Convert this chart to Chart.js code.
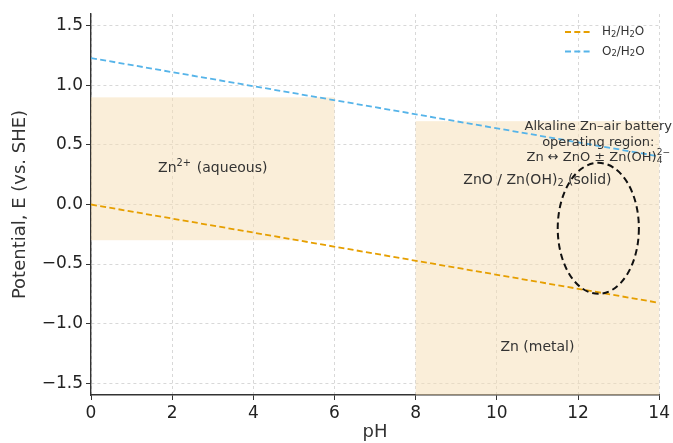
<!DOCTYPE html>
<html>
<head>
<meta charset="utf-8">
<script src="https://cdn.jsdelivr.net/npm/chart.js@4.4.1/dist/chart.umd.min.js"></script>
<style>
  html, body { margin: 0; padding: 0; background: #fff; }
  #wrap { width: 673px; height: 443px; position: relative; }
</style>
</head>
<body>
<div id="wrap"><canvas id="myChart"></canvas></div>
<script>
// water stability lines (pH vs potential)
var phValues = [0, 14];
var h2Values = [0, -0.826];
var o2Values = [1.23, 0.404];

var xTicks = [0, 2, 4, 6, 8, 10, 12, 14];
var yTicks = [-1.5, -1.0, -0.5, 0.0, 0.5, 1.0, 1.5];

// shaded stability regions
var regionX0 = [0, 8];
var regionX1 = [6, 14];
var regionY0 = [-0.3, -1.6];
var regionY1 = [0.9, 0.7];

// region labels  (_x = subscript, ^{..} = superscript)
var labelText = ['Zn^{2+} (aqueous)', 'ZnO / Zn(OH)_2 (solid)', 'Zn (metal)'];
var labelX = [3, 11, 11];
var labelY = [0.3, 0.2, -1.2];

// battery operating region (ellipse) + note
var ellipseCenter = [12.5, -0.2];
var ellipseRadius = [1.0, 0.55];
var noteLines = ['Alkaline Zn\u2013air battery', 'operating region:', 'Zn \u2194 ZnO \u00b1 Zn(OH)_4^{2\u2212}'];
var noteAnchor = [12.5, 0.52];

var seriesNames = ['H_2/H_2O', 'O_2/H_2O'];

var FONT = "'DejaVu Sans', sans-serif";

function fmtY(v) {
  return (v < 0 ? '\u2212' : '') + Math.abs(v).toFixed(1);
}

// split "Zn(OH)_4^{2-}" into normal / sub / sup pieces
function parseRich(s) {
  var out = [], buf = '', i = 0;
  while (i < s.length) {
    var c = s[i];
    if (c === '_' || c === '^') {
      if (buf) { out.push({ t: buf, m: 'n' }); buf = ''; }
      var g;
      if (s[i + 1] === '{') {
        var e = s.indexOf('}', i + 2);
        g = s.substring(i + 2, e);
        i = e + 1;
      } else {
        g = s[i + 1];
        i += 2;
      }
      out.push({ t: g, m: c === '_' ? 'sub' : 'sup' });
    } else {
      buf += c;
      i++;
    }
  }
  if (buf) out.push({ t: buf, m: 'n' });
  return out;
}

function drawRich(ctx, s, x, y, size, align) {
  var parts = parseRich(s);
  var small = size * 0.7;
  var items = [], total = 0;
  for (var i = 0; i < parts.length; i++) {
    var p = parts[i];
    if (p.m === 'n') {
      ctx.font = size + 'px ' + FONT;
      var w = ctx.measureText(p.t).width;
      items.push({ t: p.t, x: total, dy: 0, f: size });
      total += w;
    } else {
      ctx.font = small + 'px ' + FONT;
      var w1 = ctx.measureText(p.t).width;
      var dy = p.m === 'sub' ? size * 0.22 : -size * 0.38;
      items.push({ t: p.t, x: total, dy: dy, f: small });
      var adv = w1;
      // stacked sub + sup
      if (p.m === 'sub' && parts[i + 1] && parts[i + 1].m === 'sup') {
        var q = parts[i + 1];
        var w2 = ctx.measureText(q.t).width;
        items.push({ t: q.t, x: total, dy: -size * 0.42, f: small });
        adv = Math.max(w1, w2);
        i++;
      }
      total += adv + (p.m === 'sup' ? size * 0.1 : 0);
    }
  }
  var x0 = align === 'center' ? x - total / 2 : (align === 'right' ? x - total : x);
  ctx.textAlign = 'left';
  ctx.textBaseline = 'middle';
  items.forEach(function (it) {
    ctx.font = it.f + 'px ' + FONT;
    ctx.fillText(it.t, x0 + it.x, y + it.dy);
  });
}

var regionsPlugin = {
  id: 'regions',
  beforeDatasetsDraw: function (chart) {
    var ctx = chart.ctx, x = chart.scales.x, y = chart.scales.y;
    ctx.save();
    ctx.fillStyle = 'rgba(245,222,179,0.5)';
    for (var i = 0; i < regionX0.length; i++) {
      var px0 = x.getPixelForValue(regionX0[i]);
      var px1 = x.getPixelForValue(regionX1[i]);
      var py0 = y.getPixelForValue(regionY1[i]);
      var py1 = y.getPixelForValue(regionY0[i]);
      ctx.fillRect(px0, py0, px1 - px0, py1 - py0);
    }
    ctx.restore();
  },
  afterDatasetsDraw: function (chart) {
    var ctx = chart.ctx, x = chart.scales.x, y = chart.scales.y;
    ctx.save();
    // labels
    ctx.fillStyle = '#333';
    for (var i = 0; i < labelText.length; i++) {
      drawRich(ctx, labelText[i], x.getPixelForValue(labelX[i]), y.getPixelForValue(labelY[i]), 14, 'center');
    }
    // ellipse
    var cx = x.getPixelForValue(ellipseCenter[0]);
    var cy = y.getPixelForValue(ellipseCenter[1]);
    var rx = Math.abs(x.getPixelForValue(ellipseCenter[0] + ellipseRadius[0]) - cx);
    var ry = Math.abs(y.getPixelForValue(ellipseCenter[1] + ellipseRadius[1]) - cy);
    ctx.beginPath();
    ctx.setLineDash([6.5, 4]);
    ctx.lineWidth = 2;
    ctx.strokeStyle = '#111';
    ctx.ellipse(cx, cy, rx, ry, 0, 0, Math.PI * 2);
    ctx.stroke();
    ctx.setLineDash([]);
    // note
    ctx.fillStyle = '#333';
    var nx = x.getPixelForValue(noteAnchor[0]);
    var ny = y.getPixelForValue(noteAnchor[1]);
    for (var j = 0; j < noteLines.length; j++) {
      drawRich(ctx, noteLines[j], nx, ny + (j - 1) * 15.5, 13, 'center');
    }
    // legend
    chart.data.datasets.forEach(function (ds, k) {
      var ly = 32 + k * 19.5;
      ctx.beginPath();
      ctx.setLineDash(ds.borderDash);
      ctx.lineWidth = ds.borderWidth;
      ctx.strokeStyle = ds.borderColor;
      ctx.moveTo(565, ly);
      ctx.lineTo(590, ly);
      ctx.stroke();
      ctx.setLineDash([]);
      ctx.fillStyle = '#333';
      drawRich(ctx, seriesNames[k], 602, ly, 12, 'left');
    });
    ctx.restore();
  }
};

new Chart("myChart", {
  type: "scatter",
  data: {
    datasets: [{
      label: 'H2/H2O',
      data: phValues.map(function (p, i) { return { x: p, y: h2Values[i] }; }),
      showLine: true,
      borderColor: '#E69F00',
      borderWidth: 1.8,
      borderDash: [6, 3.3],
      pointRadius: 0
    }, {
      label: 'O2/H2O',
      data: phValues.map(function (p, i) { return { x: p, y: o2Values[i] }; }),
      showLine: true,
      borderColor: '#56B4E9',
      borderWidth: 1.8,
      borderDash: [6, 3.3],
      pointRadius: 0
    }]
  },
  options: {
    responsive: true,
    maintainAspectRatio: false,
    animation: false,
    layout: { padding: { top: 14, right: 13, left: 0, bottom: 0 } },
    plugins: {
      legend: { display: false },
      tooltip: { enabled: false }
    },
    scales: {
      x: {
        type: 'linear',
        min: 0,
        max: 14,
        afterBuildTicks: function (s) { s.ticks = xTicks.map(function (v) { return { value: v }; }); },
        afterFit: function (s) { s.height = 48; },
        ticks: {
          color: '#222',
          padding: 3,
          maxRotation: 0,
          font: { family: FONT, size: 17 },
          callback: function (v) { return String(v); }
        },
        grid: { color: '#cfcfcf', lineWidth: 0.8, tickLength: 5, tickColor: '#333', tickWidth: 1 },
        border: { color: '#333', width: 1.4, dash: [3, 3] },
        title: {
          display: true,
          text: 'pH',
          color: '#333',
          font: { family: FONT, size: 18 },
          padding: { top: 0, bottom: 0 }
        }
      },
      y: {
        type: 'linear',
        min: -1.6,
        max: 1.6,
        afterBuildTicks: function (s) { s.ticks = yTicks.map(function (v) { return { value: v }; }); },
        afterFit: function (s) { s.width = 91; },
        ticks: {
          color: '#222',
          padding: 3,
          font: { family: FONT, size: 17 },
          callback: function (v) { return fmtY(v); }
        },
        grid: { color: '#cfcfcf', lineWidth: 0.8, tickLength: 5, tickColor: '#333', tickWidth: 1 },
        border: { color: '#333', width: 1.4, dash: [3, 3] },
        title: {
          display: true,
          text: 'Potential, E (vs. SHE)',
          color: '#333',
          font: { family: FONT, size: 18 },
          padding: { top: 10, bottom: 0 }
        }
      }
    }
  },
  plugins: [regionsPlugin]
});
</script>
</body>
</html>
